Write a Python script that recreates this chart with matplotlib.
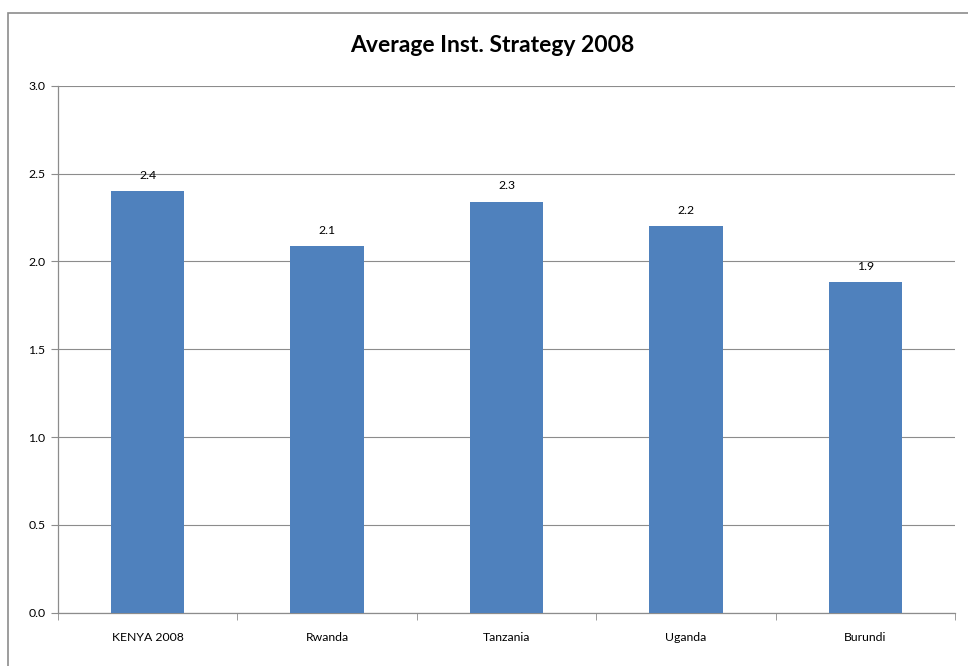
import numpy as np
import matplotlib.pyplot as plt
from matplotlib.patches import Rectangle

categories = ["KENYA 2008", "Rwanda", "Tanzania", "Uganda", "Burundi"]
values = [2.40, 2.085, 2.34, 2.20, 1.88]
y_ticks = [0.0, 0.5, 1.0, 1.5, 2.0, 2.5, 3.0]

plt.rcParams['font.family'] = ['Lato', 'DejaVu Sans']

fig = plt.figure(figsize=(9.68, 6.66), dpi=100)
ax = fig.add_axes([58 / 968, 1 - 612.7 / 666, (955 - 58) / 968, (612.7 - 85.7) / 666])

# chart border like excel's chart area
fig.patches.append(Rectangle((8 / 968, -0.1), 1.2, 1 - 13 / 666 + 0.1,
                             transform=fig.transFigure, fill=False,
                             edgecolor="#8c8c8c", linewidth=1.2))

x = np.arange(len(categories))
bars = ax.bar(x, values, width=0.41, color="#4F81BD", zorder=3)

for xi, v in zip(x, values):
    ax.annotate(f"{v:.1f}", (xi, v), xytext=(0, 7.5), textcoords="offset points",
                ha="center", va="bottom", fontsize=8.8)

ax.set_xlim(-0.5, len(categories) - 0.5)
ax.set_ylim(0, 3.0)
ax.set_yticks(y_ticks)
ax.set_yticklabels([f"{t:.1f}" for t in y_ticks], fontsize=8.8)
ax.set_xticks(x)
ax.set_xticklabels(categories, fontsize=8.8)
ax.set_xticks(np.arange(-0.5, len(categories)), minor=True)
ax.tick_params(axis="x", which="major", length=0, pad=14)
ax.tick_params(axis="x", which="minor", length=5, color="#8c8c8c", direction="out")
ax.tick_params(axis="y", length=5, color="#8c8c8c", direction="out", pad=4)

ax.grid(axis="y", color="#8c8c8c", linewidth=0.8, zorder=0)
for s in ["top", "right"]:
    ax.spines[s].set_visible(False)
for s in ["left", "bottom"]:
    ax.spines[s].set_color("#8c8c8c")
    ax.spines[s].set_linewidth(0.9)

fig.text(492 / 968, 1 - 45 / 666, "Average Inst. Strategy 2008",
         ha="center", va="center", fontsize=16.5, fontweight="bold")

fig.savefig("out.png", dpi=100)
